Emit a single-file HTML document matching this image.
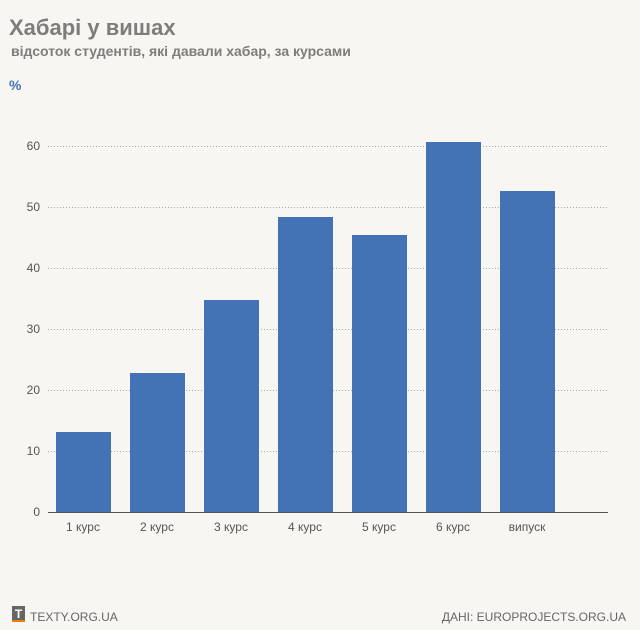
<!DOCTYPE html>
<html><head><meta charset="utf-8"><style>
body{margin:0;background:#f7f6f2;}
svg{display:block;font-family:"Liberation Sans","DejaVu Sans",sans-serif;}
</style></head><body>
<svg width="640" height="630" viewBox="0 0 640 630" xmlns="http://www.w3.org/2000/svg">
<rect width="640" height="630" fill="#f7f6f2"/>
<text x="9" y="35" font-size="22" font-weight="bold" fill="#7d7d7d">Хабарі у вишах</text>
<text x="11" y="56" font-size="14" font-weight="bold" fill="#7d7d7d">відсоток студентів, які давали хабар, за курсами</text>
<text x="9" y="90" font-size="14" font-weight="bold" fill="#4473b5">%</text>
<g stroke="#aaa" stroke-dasharray="1,2" stroke-width="1">
<line x1="48" y1="146.5" x2="608" y2="146.5"/>
<line x1="48" y1="207.5" x2="608" y2="207.5"/>
<line x1="48" y1="268.5" x2="608" y2="268.5"/>
<line x1="48" y1="329.5" x2="608" y2="329.5"/>
<line x1="48" y1="390.5" x2="608" y2="390.5"/>
<line x1="48" y1="451.5" x2="608" y2="451.5"/>
</g>
<line x1="48" y1="512.5" x2="608" y2="512.5" stroke="#555" stroke-width="1"/>
<g font-size="12" fill="#555" text-anchor="end">
<text x="40" y="150">60</text><text x="40" y="211">50</text><text x="40" y="272">40</text>
<text x="40" y="333">30</text><text x="40" y="394">20</text><text x="40" y="455">10</text><text x="40" y="516">0</text>
</g>
<g fill="#4473b5">
<rect x="56" y="432" width="55" height="80"/>
<rect x="130" y="373" width="55" height="139"/>
<rect x="204" y="300" width="55" height="212"/>
<rect x="278" y="217" width="55" height="295"/>
<rect x="352" y="235" width="55" height="277"/>
<rect x="426" y="142" width="55" height="370"/>
<rect x="500" y="191" width="55" height="321"/>
</g>
<g font-size="12" fill="#555" text-anchor="middle">
<text x="83" y="531">1 курс</text><text x="157" y="531">2 курс</text><text x="231" y="531">3 курс</text>
<text x="305" y="531">4 курс</text><text x="379" y="531">5 курс</text><text x="453" y="531">6 курс</text>
<text x="527" y="531">випуск</text>
</g>
<rect x="12" y="606" width="13" height="14" fill="#666"/>
<rect x="12" y="620" width="13" height="2" fill="#f07d00"/>
<text x="18.5" y="618" font-size="12" font-weight="bold" fill="#fff" text-anchor="middle">T</text>
<text x="30" y="621" font-size="12" fill="#666">TEXTY.ORG.UA</text>
<text x="626" y="621" font-size="12" fill="#666" text-anchor="end">ДАНІ: EUROPROJECTS.ORG.UA</text>
</svg>
</body></html>
